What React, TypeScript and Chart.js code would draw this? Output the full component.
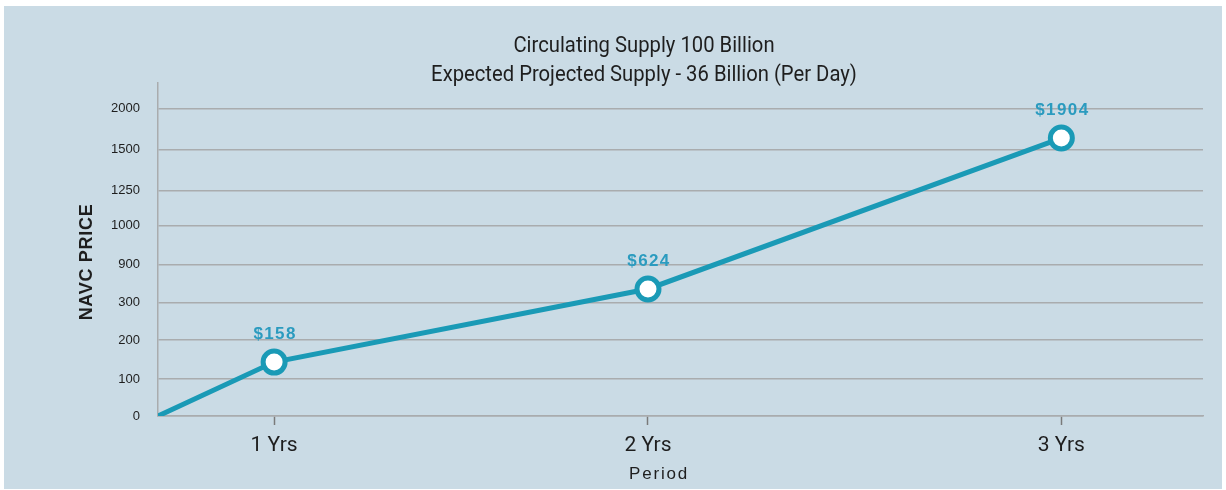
import React, { useEffect, useRef } from "react";
import { Chart, registerables } from "chart.js";

Chart.register(...registerables);

// ---- data ----
const titleLines = [
  "Circulating Supply 100 Billion",
  "Expected Projected Supply - 36 Billion (Per Day)",
];
const yAxisTitle = "NAVC PRICE";
const xAxisTitle = "Period";

const periodLabels = ["1 Yrs", "2 Yrs", "3 Yrs"];
// position of each period along the (unevenly drawn) x axis, in axis units
const periodPositions = [1, 4.22, 7.78];
const xMax = 9;

const prices = [158, 624, 1904];
// plotted height of each price on the (non-linear) y axis, in grid units
const priceLevels = [1.4, 3.3, 7.22];

const yTickLabels = ["0", "100", "200", "300", "900", "1000", "1250", "1500", "2000"];
const yTickLevels = [0, 0.96, 1.97, 2.94, 3.94, 4.94, 5.85, 6.92, 7.99];
const yMax = 8.65;

// ---- styles ----
const LINE = "#1a9ab6";
const LABEL = "#2b9bbf";
const GRID = "#a9acae";
const TEXT = "#1e1e1e";

const textPlugin = {
  id: "customTexts",
  afterDraw(chart: any) {
    const ctx = chart.ctx as CanvasRenderingContext2D;
    ctx.save();
    ctx.fillStyle = TEXT;
    ctx.textAlign = "center";
    ctx.textBaseline = "alphabetic";

    // titles
    ctx.font = "22px Roboto";
    titleLines.forEach((line, i) => {
      ctx.save();
      ctx.translate(640, 46 + i * 29);
      ctx.scale(0.92, 1);
      ctx.fillText(line, 0, 0);
      ctx.restore();
    });

    // y axis title
    ctx.save();
    (ctx as any).letterSpacing = "0.7px";
    ctx.font = "bold 18px 'Liberation Sans', Arial, sans-serif";
    ctx.translate(88, 256);
    ctx.rotate(-Math.PI / 2);
    ctx.fillText(yAxisTitle, 0, 0);
    ctx.restore();

    // x axis title
    ctx.save();
    (ctx as any).letterSpacing = "1.8px";
    ctx.font = "17px 'Liberation Sans', Arial, sans-serif";
    ctx.fillText(xAxisTitle, 655, 473);
    ctx.restore();

    // data labels
    const meta = chart.getDatasetMeta(0);
    ctx.save();
    (ctx as any).letterSpacing = "1.4px";
    ctx.font = "bold 17px 'Liberation Sans', Arial, sans-serif";
    ctx.fillStyle = LABEL;
    prices.forEach((p, i) => {
      const el = meta.data[i + 1];
      if (!el) return;
      ctx.fillText(`$${p}`, el.x + 1, el.y - 23);
    });
    ctx.restore();

    ctx.restore();
  },
};

export default function App() {
  const canvasRef = useRef<HTMLCanvasElement | null>(null);

  useEffect(() => {
    document.body.style.margin = "0";
    const canvas = canvasRef.current;
    if (!canvas) return;

    const points = [{ x: 0, y: 0 }].concat(
      periodPositions.map((x, i) => ({ x, y: priceLevels[i] }))
    );

    const chart = new Chart(canvas, {
      type: "line",
      data: {
        datasets: [
          {
            data: points,
            borderColor: LINE,
            borderWidth: 5,
            tension: 0,
            pointRadius: points.map((_, i) => (i === 0 ? 0 : 11)),
            pointHoverRadius: points.map((_, i) => (i === 0 ? 0 : 11)),
            pointBackgroundColor: "#ffffff",
            pointBorderColor: LINE,
            pointBorderWidth: 5,
            fill: false,
          },
        ],
      },
      options: {
        responsive: false,
        animation: false,
        layout: { padding: { top: 77, right: 19, left: 0, bottom: 0 } },
        plugins: {
          legend: { display: false },
          title: { display: false },
          tooltip: { enabled: false },
        },
        scales: {
          x: {
            type: "linear",
            min: 0,
            max: xMax,
            afterBuildTicks: (scale: any) => {
              scale.ticks = periodPositions.map((v) => ({ value: v }));
            },
            afterFit: (scale: any) => {
              scale.height = 73;
            },
            grid: {
              display: true,
              drawOnChartArea: false,
              drawTicks: true,
              tickLength: 9,
              tickColor: "#7a7a7a",
              tickWidth: 1.5,
            },
            border: { display: true, color: GRID, width: 1.5 },
            ticks: {
              autoSkip: false,
              maxRotation: 0,
              padding: 8,
              color: TEXT,
              font: { family: "Roboto", size: 21 },
              callback: (_v: any, index: number) => periodLabels[index],
            },
          },
          y: {
            type: "linear",
            min: 0,
            max: yMax,
            afterBuildTicks: (scale: any) => {
              scale.ticks = yTickLevels.map((v) => ({ value: v }));
            },
            afterFit: (scale: any) => {
              scale.width = 154;
            },
            grid: {
              display: true,
              drawOnChartArea: true,
              drawTicks: false,
              color: GRID,
              lineWidth: 1.5,
            },
            border: { display: true, color: GRID, width: 1.5 },
            ticks: {
              padding: 18,
              color: TEXT,
              font: { family: "'Liberation Sans', Arial, sans-serif", size: 13 },
              callback: (_v: any, index: number) => yTickLabels[index],
            },
          },
        },
      },
      plugins: [textPlugin],
    } as any);

    return () => chart.destroy();
  }, []);

  return (
    <div
      style={{
        position: "absolute",
        left: 4,
        top: 6,
        width: 1218,
        height: 483,
        background: "#cadbe5",
      }}
    >
      <canvas ref={canvasRef} width={1218} height={483} style={{ display: "block" }} />
    </div>
  );
}
